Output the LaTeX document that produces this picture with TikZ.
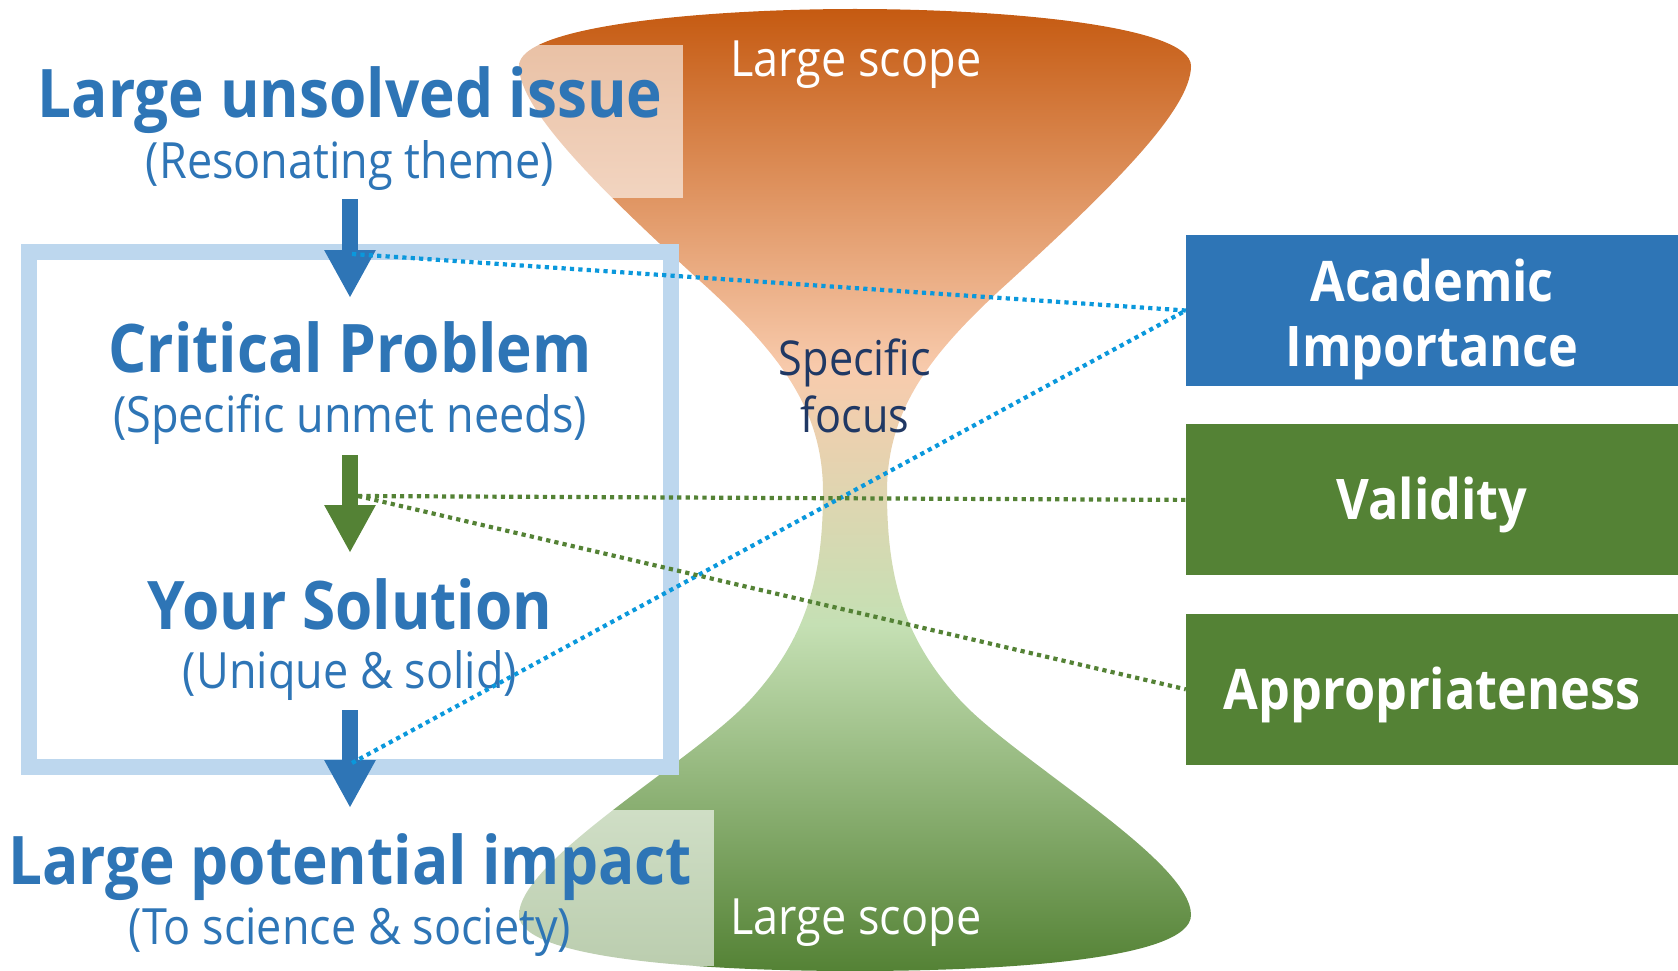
\documentclass[tikz,border=0pt]{standalone}
\usepackage{fontspec}
\setmainfont{Open Sans}[FakeStretch=0.9]
\usepackage{xcolor}
\usetikzlibrary{arrows.meta, positioning}

\definecolor{issueblue}{HTML}{2E75B6}
\definecolor{fitgreen}{HTML}{548235}
\definecolor{framelight}{HTML}{BDD7EE}
\definecolor{linkblue}{HTML}{0A98DC}
\definecolor{focusnavy}{HTML}{203864}
\definecolor{hgtop}{HTML}{C55A11}
\definecolor{hgpeach}{HTML}{F8CBAD}
\definecolor{hglight}{HTML}{C5E0B4}
\definecolor{hgbottom}{HTML}{548235}

\pgfdeclareverticalshading{hourglass}{100bp}{color(0bp)=(hgbottom); color(25bp)=(hgbottom);
  color(43bp)=(hglight); color(56.2bp)=(hgpeach); color(75bp)=(hgtop); color(100bp)=(hgtop)}

\begin{document}
\begin{tikzpicture}[ x = 1pt, y = -1pt
                     , node distance = 38pt
                     , title/.style = { anchor = base, inner sep = 0pt, text = issueblue
                                      , font = \bfseries\fontsize{67}{80}\selectfont }
                     , note/.style = { anchor = base, inner sep = 0pt, text = issueblue
                                     , font = \fontsize{50}{60}\selectfont }
                     , scopetext/.style = { anchor = base, inner sep = 0pt, text = white
                                          , font = \fontsize{50}{60}\selectfont }
                     , criterion/.style = { rectangle, fill = #1, text = white, align = center
                                          , inner sep = 0pt, minimum width = 492pt
                                          , minimum height = 151pt
                                          , font = \bfseries\fontsize{56}{65}\selectfont }
                     , flow/.style = { line width = 16pt, -{Triangle[width=48pt, length=48pt]} }
                     , tie/.style = { line width = 4.2pt, dash pattern = on 4.2pt off 4.2pt }
                     ]

  \useasboundingbox (0,0) rectangle (1678,971);

  % funnel from large scope to specific focus and back
  \shade[shading = hourglass]
    (855,9) .. controls (1000,9) and (1191,25) .. (1191,66)
    .. controls (1191,110) and (1110,190) .. (1000,290)
    .. controls (930,355) and (887,410) .. (887,492)
    .. controls (887,580) and (905,640) .. (960,700)
    .. controls (1015,760) and (1191,860) .. (1191,915)
    .. controls (1191,960) and (1000,971) .. (855,971)
    .. controls (710,971) and (519,960) .. (519,915)
    .. controls (519,860) and (695,760) .. (750,700)
    .. controls (805,640) and (823,580) .. (823,492)
    .. controls (823,410) and (780,355) .. (710,290)
    .. controls (600,190) and (519,110) .. (519,66)
    .. controls (519,25) and (710,9) .. (855,9) -- cycle;

  \fill[white, opacity = 0.6] (500,45) rectangle (683,198);
  \fill[white, opacity = 0.6] (500,810) rectangle (714,966);

  \node (frame) [draw = framelight, line width = 16pt, inner sep = 0pt
                , minimum width = 642pt, minimum height = 515pt] at (350,509.5) {};

  \node (topscope) [scopetext] at (856,77) {Large scope};
  \node (bottomscope) [scopetext] at (856,934) {Large scope};
  \node (focus) [align = center, inner sep = 0pt, text = focusnavy
                , font = \fontsize{48}{57}\selectfont] at (855,386) {Specific\\focus};

  \node (issue) [title] at (350,118) {Large unsolved issue};
  \node (issuenote) [note] at (350,178) {(Resonating theme)};
  \node (problem) [title] at (350,372) {Critical Problem};
  \node (problemnote) [note] at (350,432) {(Specific unmet needs)};
  \node (solution) [title] at (350,629) {Your Solution};
  \node (solutionnote) [note] at (350,688) {(Unique \& solid)};
  \node (impact) [title] at (350,884) {Large potential impact};
  \node (impactnote) [note] at (350,944) {(To science \& society)};

  \coordinate (issueout) at (350,199);
  \coordinate (problemin) at (350,298);
  \coordinate (problemout) at (350,455);
  \coordinate (solutionin) at (350,553);
  \coordinate (solutionout) at (350,710);
  \coordinate (impactin) at (350,808);

  \draw[flow, issueblue] (issueout) -- (problemin);
  \draw[flow, fitgreen] (problemout) -- (solutionin);
  \draw[flow, issueblue] (solutionout) -- (impactin);

  \node (academic) [criterion = issueblue, text height = 111pt, text depth = 0pt]
    at (1432,310.5) {Academic\\Importance};
  \node (validity) [criterion = fitgreen, below = of academic
                   , text height = 40pt, text depth = 0pt] {Validity};
  \node (approp) [criterion = fitgreen, below = of validity
                 , text height = 40pt, text depth = 0pt] {Appropriateness};

  \coordinate (issuehead) at (352,254);
  \coordinate (problemhead) at (358,496);
  \coordinate (solutionhead) at (352,763);

  \draw[tie, linkblue] (issuehead) -- (academic.west);
  \draw[tie, linkblue] (solutionhead) -- (academic.west);
  \draw[tie, fitgreen] (problemhead) -- (validity.west);
  \draw[tie, fitgreen] (problemhead) -- (approp.west);

\end{tikzpicture}
\end{document}
